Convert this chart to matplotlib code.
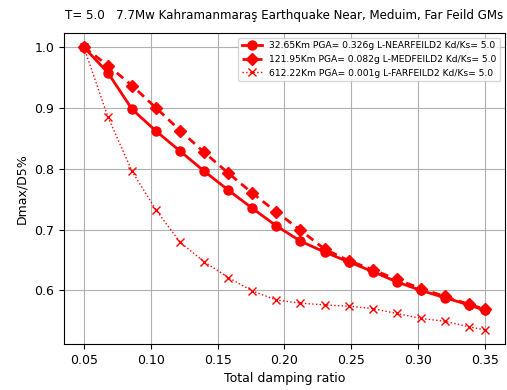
import matplotlib
matplotlib.use("Agg")
import matplotlib.pyplot as plt

# damping ratios used for every record
zeta = [0.05, 0.068, 0.086, 0.104, 0.122, 0.14, 0.158, 0.176, 0.194,
        0.212, 0.23, 0.248, 0.266, 0.284, 0.302, 0.32, 0.338, 0.35]

# Dmax/D5% for the three ground motions
near = [1.0, 0.958, 0.898, 0.862, 0.829, 0.796, 0.765, 0.735, 0.706,
        0.681, 0.663, 0.647, 0.631, 0.614, 0.600, 0.588, 0.576, 0.567]
med = [1.0, 0.970, 0.937, 0.900, 0.863, 0.827, 0.793, 0.760, 0.729,
       0.699, 0.668, 0.649, 0.634, 0.618, 0.603, 0.590, 0.577, 0.569]
far = [1.0, 0.885, 0.796, 0.732, 0.679, 0.647, 0.621, 0.599, 0.584,
       0.579, 0.576, 0.574, 0.570, 0.562, 0.554, 0.549, 0.540, 0.535]

labels = ["32.65Km PGA= 0.326g L-NEARFEILD2 Kd/Ks= 5.0",
          "121.95Km PGA= 0.082g L-MEDFEILD2 Kd/Ks= 5.0",
          "612.22Km PGA= 0.001g L-FARFEILD2 Kd/Ks= 5.0"]

fig = plt.figure(figsize=(5.07, 3.9), dpi=100)
ax = fig.add_axes([0.126, 0.118, 0.87, 0.797])

ax.plot(zeta, near, "-o", color="red", lw=2, ms=6.5, label=labels[0])
ax.plot(zeta, med, "--D", color="red", lw=2, ms=6.5, label=labels[1],
        dashes=(3, 2))
ax.plot(zeta, far, ":x", color="red", lw=1, ms=6, label=labels[2])

ax.set_title("T= 5.0   7.7Mw Kahramanmaraş Earthquake Near, Meduim, Far Feild GMs",
             fontsize=8.6, pad=10)
ax.set_xlabel("Total damping ratio", fontsize=9)
ax.set_ylabel("Dmax/D5%", fontsize=9)
ax.tick_params(labelsize=9)
ax.grid(True)
ax.legend(loc="upper right", fontsize=6.6, handlelength=2.2)

fig.savefig("out.png", dpi=100)
